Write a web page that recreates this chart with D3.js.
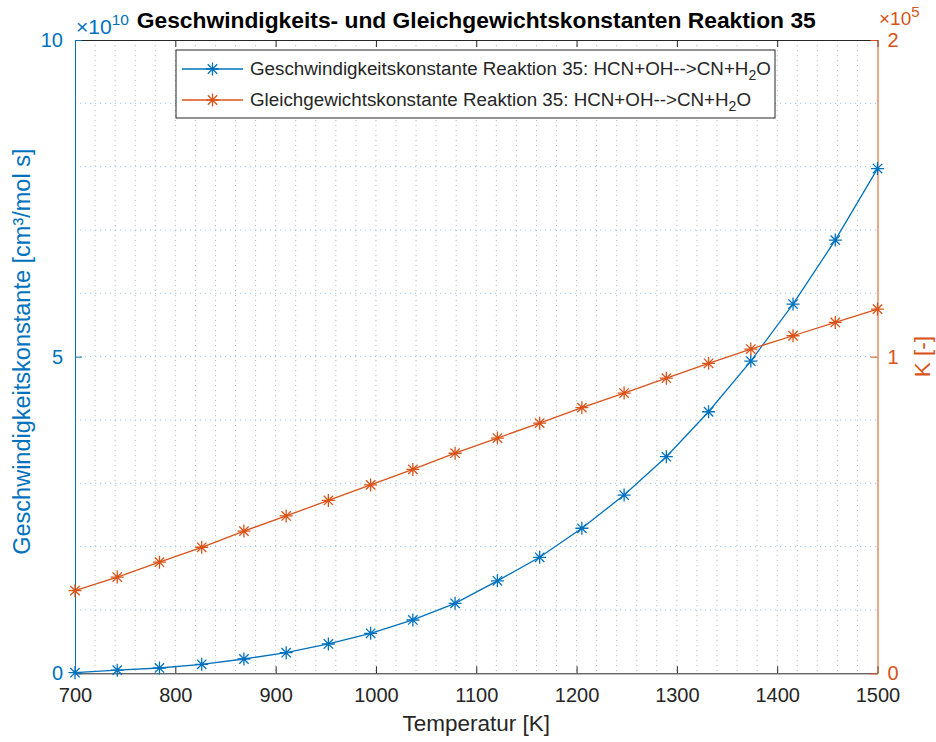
<!DOCTYPE html>
<html>
<head>
<meta charset="utf-8">
<script src="https://cdn.jsdelivr.net/npm/d3@7"></script>
<style>
  body { margin: 0; background: #fff; }
  text { font-family: "Liberation Sans", Arial, Helvetica, sans-serif; }
</style>
</head>
<body>
<svg id="chart" width="936" height="742"></svg>
<script>
// ---- Data ----
const temperatures = [700, 742.1, 784.2, 826.3, 868.4, 910.5, 952.6, 994.7, 1036.8, 1078.9,
                      1121.1, 1163.2, 1205.3, 1247.4, 1289.5, 1331.6, 1373.7, 1415.8, 1457.9, 1500];
// Geschwindigkeitskonstante, units of 1e10 cm^3/(mol s)
const rateConst = [0.01, 0.05, 0.084, 0.142, 0.226, 0.325, 0.463, 0.632, 0.842, 1.105,
                   1.46, 1.832, 2.29, 2.815, 3.42, 4.13, 4.93, 5.83, 6.84, 7.97];
// Gleichgewichtskonstante, units of 1e5
const eqConst = [0.261, 0.304, 0.351, 0.398, 0.449, 0.497, 0.546, 0.595, 0.644, 0.695,
                 0.743, 0.790, 0.839, 0.885, 0.932, 0.979, 1.024, 1.066, 1.108, 1.150];
const xTicks = [700, 800, 900, 1000, 1100, 1200, 1300, 1400, 1500];
const leftTicks = [0, 5, 10];
const rightTicks = [0, 1, 2];

const blue = "#0072BD", orange = "#D95319", dark = "#262626";

const svg = d3.select("#chart");
const L = 75, R = 877.5, T = 40, B = 673.3;

const x = d3.scaleLinear().domain([700, 1500]).range([L, R]);
const yL = d3.scaleLinear().domain([0, 10]).range([B, T]);
const yR = d3.scaleLinear().domain([0, 2]).range([B, T]);

// ---- Grid ----
const g = svg.append("g");
g.selectAll("line.vg").data(d3.range(720, 1500, 20)).join("line")
  .attr("x1", d => x(d)).attr("x2", d => x(d)).attr("y1", T).attr("y2", B)
  .attr("stroke", "#bdbdbd").attr("stroke-width", 1).attr("stroke-dasharray", "1.2,3.8");
g.selectAll("line.hg").data(d3.range(1, 10, 1)).join("line")
  .attr("x1", L).attr("x2", R).attr("y1", d => yL(d)).attr("y2", d => yL(d))
  .attr("stroke", "#9cc6e6").attr("stroke-width", 1).attr("stroke-dasharray", "1.2,3.8");

// ---- Axes ----
const fs = 20;
const ff = "Liberation Sans, Arial, sans-serif";
const xAxisB = d3.axisBottom(x).tickValues(xTicks).tickFormat(d3.format("d"))
  .tickSizeInner(-7).tickSizeOuter(0).tickPadding(15);
const gx = svg.append("g").attr("transform", `translate(0,${B})`).call(xAxisB);
gx.select(".domain").attr("stroke", dark);
gx.selectAll(".tick line").attr("stroke", dark);
gx.selectAll(".tick text").attr("fill", dark).attr("font-size", fs).attr("font-family", ff);

const xAxisT = d3.axisTop(x).tickValues(xTicks).tickSizeInner(-7).tickSizeOuter(0).tickFormat("");
const gxt = svg.append("g").attr("transform", `translate(0,${T})`).call(xAxisT);
gxt.select(".domain").attr("stroke", dark);
gxt.selectAll(".tick line").attr("stroke", dark);

const yAxisL = d3.axisLeft(yL).tickValues(leftTicks).tickFormat(d3.format("d"))
  .tickSizeInner(-7).tickSizeOuter(0).tickPadding(12);
const gyl = svg.append("g").attr("transform", `translate(${L},0)`).call(yAxisL);
gyl.select(".domain").attr("stroke", blue);
gyl.selectAll(".tick line").attr("stroke", blue);
gyl.selectAll(".tick text").attr("fill", blue).attr("font-size", fs).attr("font-family", ff);

const yAxisR = d3.axisRight(yR).tickValues(rightTicks).tickFormat(d3.format("d"))
  .tickSizeInner(-7).tickSizeOuter(0).tickPadding(10);
const gyr = svg.append("g").attr("transform", `translate(${R},0)`).call(yAxisR);
gyr.select(".domain").attr("stroke", orange);
gyr.selectAll(".tick line").attr("stroke", orange);
gyr.selectAll(".tick text").attr("fill", orange).attr("font-size", fs).attr("font-family", ff);

// exponent labels
const eL = svg.append("text").attr("x", 76).attr("y", 34).attr("fill", blue).attr("font-size", 21);
eL.append("tspan").text("\u00d710");
eL.append("tspan").attr("dy", -9).attr("font-size", 15.5).text("10");
const eR = svg.append("text").attr("x", 879).attr("y", 25).attr("fill", orange).attr("font-size", 19);
eR.append("tspan").text("\u00d710");
eR.append("tspan").attr("dy", -8).attr("font-size", 15).text("5");

// ---- Lines and markers ----
function star(s) {
  const d = s * 0.72;
  return `M0,${-s}V${s}M${-s},0H${s}M${-d},${-d}L${d},${d}M${-d},${d}L${d},${-d}`;
}
const line = (ys, vals) => d3.line().x((d, i) => x(temperatures[i])).y(d => ys(d))(vals);

[[rateConst, yL, blue], [eqConst, yR, orange]].forEach(([vals, ys, col]) => {
  svg.append("path").attr("d", line(ys, vals)).attr("fill", "none")
    .attr("stroke", col).attr("stroke-width", 1.3);
  svg.append("g").selectAll("path").data(vals).join("path")
    .attr("transform", (d, i) => `translate(${x(temperatures[i])},${ys(d)})`)
    .attr("d", star(6.5)).attr("stroke", col).attr("stroke-width", 1.3).attr("fill", "none");
});

// ---- Titles ----
svg.append("text").attr("x", (L + R) / 2).attr("y", 28).attr("text-anchor", "middle")
  .attr("font-weight", "bold").attr("font-size", 22.8).attr("fill", "#000")
  .text("Geschwindigkeits- und Gleichgewichtskonstanten Reaktion 35");
svg.append("text").attr("x", (L + R) / 2).attr("y", 731).attr("text-anchor", "middle")
  .attr("font-size", 22.5).attr("fill", dark).text("Temperatur [K]");
svg.append("text").attr("transform", `translate(30,${(T + B) / 2 - 5}) rotate(-90)`)
  .attr("text-anchor", "middle").attr("font-size", 23.5).attr("fill", blue)
  .text("Geschwindigkeitskonstante [cm\u00b3/mol s]");
svg.append("text").attr("transform", `translate(930,${(T + B) / 2}) rotate(-90)`)
  .attr("text-anchor", "middle").attr("font-size", 22.5).attr("fill", orange)
  .text("K [-]");

// ---- Legend ----
const lg = svg.append("g");
lg.append("rect").attr("x", 176).attr("y", 50).attr("width", 599).attr("height", 68)
  .attr("fill", "#fff").attr("stroke", "#262626").attr("stroke-width", 1);
const legendNames = ["Geschwindigkeitskonstante Reaktion 35: HCN+OH-->CN+H", "Gleichgewichtskonstante Reaktion 35: HCN+OH-->CN+H"];
const legendColors = [blue, orange];
legendNames.forEach((name, i) => {
  const yy = 69 + i * 31;
  lg.append("line").attr("x1", 182).attr("x2", 243).attr("y1", yy).attr("y2", yy)
    .attr("stroke", legendColors[i]).attr("stroke-width", 1.3);
  lg.append("path").attr("transform", `translate(212.5,${yy})`).attr("d", star(6.5))
    .attr("stroke", legendColors[i]).attr("stroke-width", 1.3).attr("fill", "none");
  const t = lg.append("text").attr("x", 250).attr("y", yy + 6).attr("font-size", 18.8).attr("fill", dark);
  t.append("tspan").text(name);
  t.append("tspan").attr("dy", 5).attr("font-size", 14).text("2");
  t.append("tspan").attr("dy", -5).text("O");
});
</script>
</body>
</html>
